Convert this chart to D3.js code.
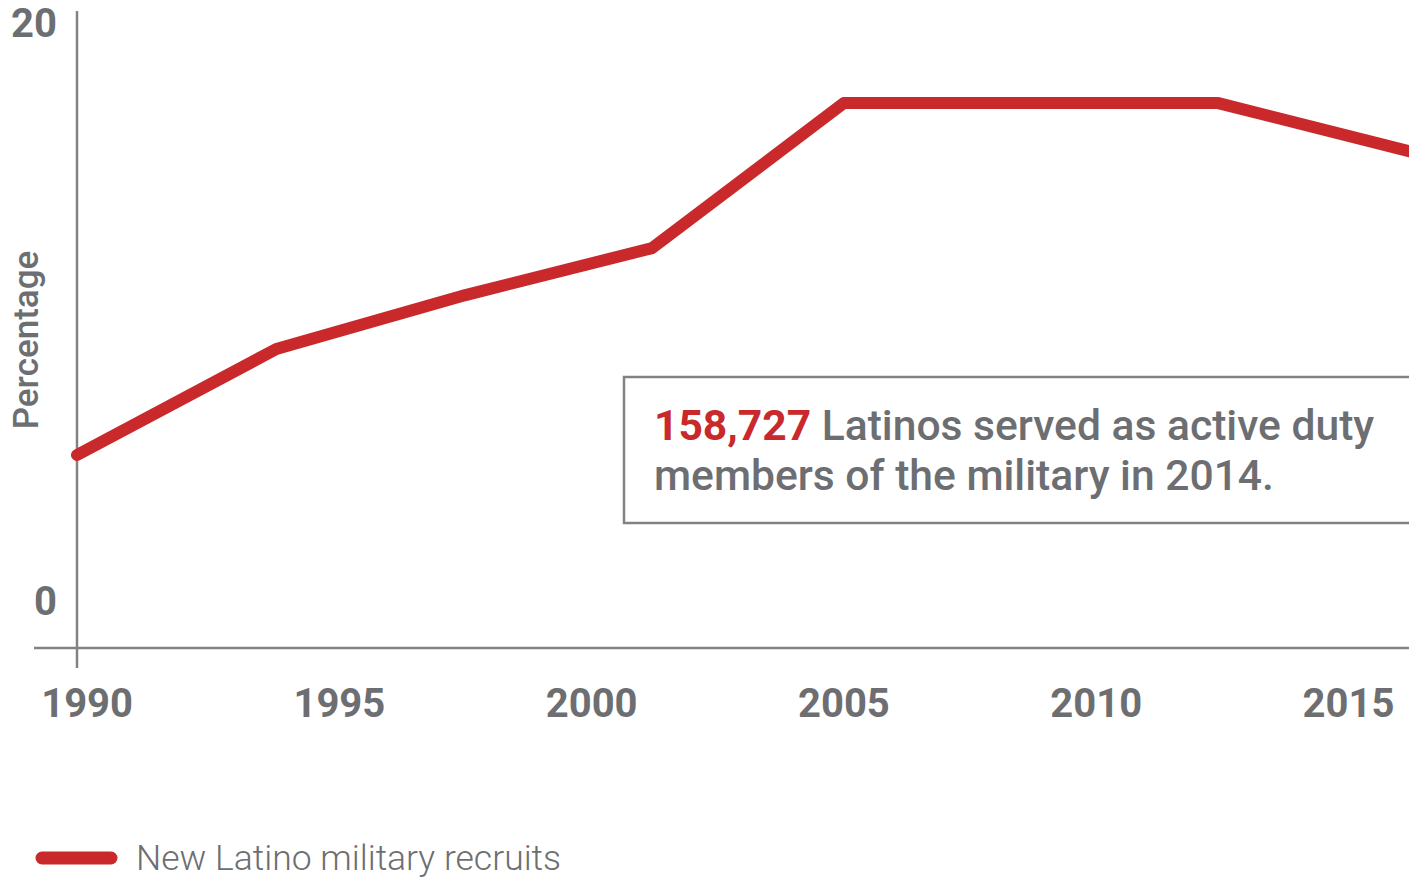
<!DOCTYPE html>
<html><head><meta charset="utf-8">
<script src="https://cdn.jsdelivr.net/npm/d3@7"></script>
<style>
html,body{margin:0;padding:0;background:#fff;}
svg{display:block;font-family:Roboto, "Noto Sans", sans-serif;}
</style></head>
<body>
<svg id="chart" width="1409" height="878"></svg>
<script>
// Data
const years = [1989.8, 1993.75, 1997.5, 2001.2, 2005.0, 2012.4, 2016.2];
const recruitsPct = [5.03, 8.7, 10.57, 12.2, 17.23, 17.23, 15.56];
const xTickLabels = [1990, 1995, 2000, 2005, 2010, 2015];
const yTickLabels = [0, 20];
const seriesName = "New Latino military recruits";
const calloutNumber = "158,727";
const calloutLine1 = " Latinos served as active duty";
const calloutLine2 = "members of the military in 2014.";

const RED = "#c9292a", GRAY = "#6d6e71", AXIS = "#808285";
const svg = d3.select("#chart");

const x = d3.scaleLinear().domain([1989.8, 2016.2]).range([77, 1409]);
const y = d3.scaleLinear().domain([-1.66, 20]).range([648, 23]);

// axes lines
svg.append("line").attr("x1", 77).attr("x2", 77).attr("y1", 11).attr("y2", 668)
  .attr("stroke", AXIS).attr("stroke-width", 2.5);
svg.append("line").attr("x1", 34).attr("x2", 1409).attr("y1", y(-1.66)).attr("y2", y(-1.66))
  .attr("stroke", AXIS).attr("stroke-width", 2.5);

// x tick labels
svg.append("g").selectAll("text").data(xTickLabels).join("text")
  .attr("x", d => x(d)).attr("y", 717)
  .attr("text-anchor", "middle").attr("font-size", 40).attr("font-weight", 700)
  .attr("fill", GRAY).text(d => d);

// y tick labels
svg.append("g").selectAll("text").data(yTickLabels).join("text")
  .attr("x", 57).attr("y", d => y(d)).attr("dy", "0.36em")
  .attr("text-anchor", "end").attr("font-size", 40).attr("font-weight", 700)
  .attr("fill", GRAY).text(d => d);

// y axis title
svg.append("text").attr("transform", "translate(38,340) rotate(-90)")
  .attr("text-anchor", "middle").attr("font-size", 35).attr("font-weight", 500)
  .attr("fill", GRAY).text("Percentage");

// line
const pts = years.map((d, i) => [d, recruitsPct[i]]);
svg.append("path").datum(pts)
  .attr("d", d3.line().x(d => x(d[0])).y(d => y(d[1])))
  .attr("fill", "none").attr("stroke", RED).attr("stroke-width", 12)
  .attr("stroke-linecap", "round").attr("stroke-linejoin", "round");

// callout box
svg.append("rect").attr("x", 624).attr("y", 377).attr("width", 790).attr("height", 146)
  .attr("fill", "#fff").attr("stroke", AXIS).attr("stroke-width", 2.5);
const t1 = svg.append("text").attr("x", 654).attr("y", 440).attr("font-size", 42.6)
  .attr("font-weight", 500).attr("fill", GRAY);
t1.append("tspan").attr("fill", RED).attr("font-weight", 700).text(calloutNumber);
t1.append("tspan").text(calloutLine1);
svg.append("text").attr("x", 654).attr("y", 490).attr("font-size", 42.6)
  .attr("font-weight", 500).attr("fill", GRAY).text(calloutLine2);

// legend
svg.append("line").attr("x1", 42).attr("x2", 111).attr("y1", 858).attr("y2", 858)
  .attr("stroke", RED).attr("stroke-width", 13).attr("stroke-linecap", "round");
svg.append("text").attr("x", 136).attr("y", 870).attr("font-size", 35.5)
  .attr("font-weight", 300).attr("fill", GRAY).text(seriesName);
</script>
</body></html>
